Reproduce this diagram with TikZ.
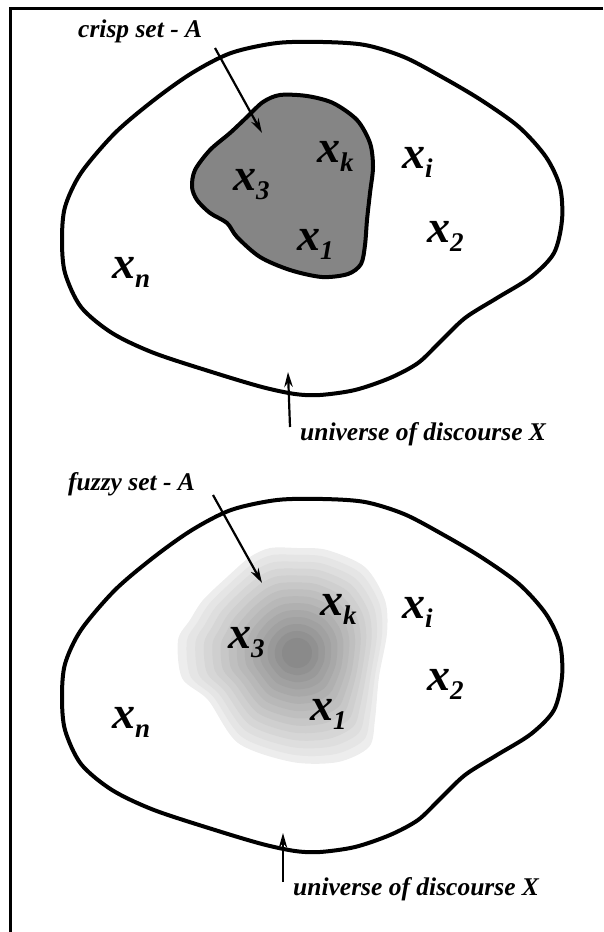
\documentclass[tikz,border=0pt]{standalone}
\usepackage{fontspec}
\setmainfont{Liberation Serif}
\usetikzlibrary{arrows.meta,calc}
\newcommand{\xlab}[1]{{\fontsize{46}{46}\selectfont x}\raisebox{-9pt}{\fontsize{27}{27}\selectfont #1}}
\begin{document}
\begin{tikzpicture}[x=1pt,y=-1pt,
  blob/.style={line width=4pt, line join=round},
  ptr/.style={line width=2.2pt, -{Stealth[length=15pt,width=8.5pt]}},
  captext/.style={font=\fontsize{25.5}{26}\selectfont\bfseries\itshape, anchor=base west, inner sep=0pt},
  elem/.style={font=\bfseries\itshape, anchor=base west, inner sep=0pt}]
\useasboundingbox (0,0) rectangle (603,932);
% frame
\draw[line width=3pt] (603,8) -- (10,8) -- (10,932);

% ---------- top: crisp set ----------
\draw[blob] plot[smooth cycle] coordinates {(277,43) (323,42) (365,45) (404,57) (442,77) (481,100) (519,127) (546,157) (560,187) (562,220) (554,253) (531,277) (497,298) (465,318) (440,342) (418,363) (390,378) (355,390) (320,395) (295,394) (262,387) (215,373) (154,353) (112,333) (81,307) (65,273) (62,240) (65,207) (81,173) (115,133) (154,100) (192,73) (231,53)};
\filldraw[blob, fill=black!48] plot[smooth cycle] coordinates {(263,102) (280,95) (307,96) (333,103) (357,120) (370,143) (373,167) (370,193) (367,220) (365,245) (361,264) (348,274) (322,277) (290,270) (260,257) (237,237) (227,223) (210,213) (197,200) (192,187) (195,170) (210,150) (230,133) (247,117)};

\node[elem] (a3) at (233,190) {\xlab{3}};
\node[elem] (ak) at (317,162) {\xlab{k}};
\node[elem] (a1) at (297,250) {\xlab{1}};
\node[elem] (ai) at (402,168) {\xlab{i}};
\node[elem] (a2) at (427,242) {\xlab{2}};
\node[elem] (an) at (112,278) {\xlab{n}};

\node[captext] (crisp) at (78,37) {crisp set - A};
\node[captext] (u1) at (300,440) {universe of discourse X};
\coordinate (ca1) at (215,48);
\coordinate (ca2) at (262,133);
\draw[ptr] (ca1) -- (ca2);
\coordinate (ua1) at (290,427);
\coordinate (ua2) at (288,372);
\draw[ptr] (ua1) -- (ua2);

% ---------- bottom: fuzzy set ----------
\coordinate (fc) at (297,653);
\foreach \k in {0,...,13} {
  \pgfmathsetmacro\s{1-0.066*\k}
  \pgfmathsetmacro\w{1-\k/13}
  \pgfmathtruncatemacro\g{7+3*\k}
  \foreach \a/\r [count=\i] in {16.3/85.4, 40.7/102.8, 52.5/118.4, 69.4/116.5, 92.6/109.1, 123.2/107.6, 152.2/100.6, 167.7/117.7, 186.2/119.7, 197.1/112, 209.4/107.9, 227.4/103.3, 243.9/106.9, 255.6/108.4, 270/105, 286.2/107.3, 308.3/109.6, 328.9/102.7, 347.5/92.2} {
    \coordinate (f\i) at ($(fc)+(\a:{\s*((1-\w)*106+\w*\r)})$);
  }
  \fill[black!\g] plot[smooth cycle] coordinates {(f1) (f2) (f3) (f4) (f5) (f6) (f7) (f8) (f9) (f10) (f11) (f12) (f13) (f14) (f15) (f16) (f17) (f18) (f19)};
}
\begin{scope}[shift={(0,457)}]
\draw[blob] plot[smooth cycle] coordinates {(277,43) (323,42) (365,45) (404,57) (442,77) (481,100) (519,127) (546,157) (560,187) (562,220) (554,253) (531,277) (497,298) (465,318) (440,342) (418,363) (390,378) (355,390) (320,395) (295,394) (262,387) (215,373) (154,353) (112,333) (81,307) (65,273) (62,240) (65,207) (81,173) (115,133) (154,100) (192,73) (231,53)};
\end{scope}

\node[elem] (b3) at (228,648) {\xlab{3}};
\node[elem] (bk) at (320,615) {\xlab{k}};
\node[elem] (b1) at (310,720) {\xlab{1}};
\node[elem] (bi) at (402,618) {\xlab{i}};
\node[elem] (b2) at (427,690) {\xlab{2}};
\node[elem] (bn) at (112,728) {\xlab{n}};

\node[captext] (fuzzy) at (68,490) {fuzzy set - A};
\node[captext] (u2) at (293,895) {universe of discourse X};
\coordinate (fa1) at (213,495);
\coordinate (fa2) at (262,583);
\draw[ptr] (fa1) -- (fa2);
\coordinate (ub1) at (283,882);
\coordinate (ub2) at (283,833);
\draw[ptr] (ub1) -- (ub2);
\end{tikzpicture}
\end{document}
